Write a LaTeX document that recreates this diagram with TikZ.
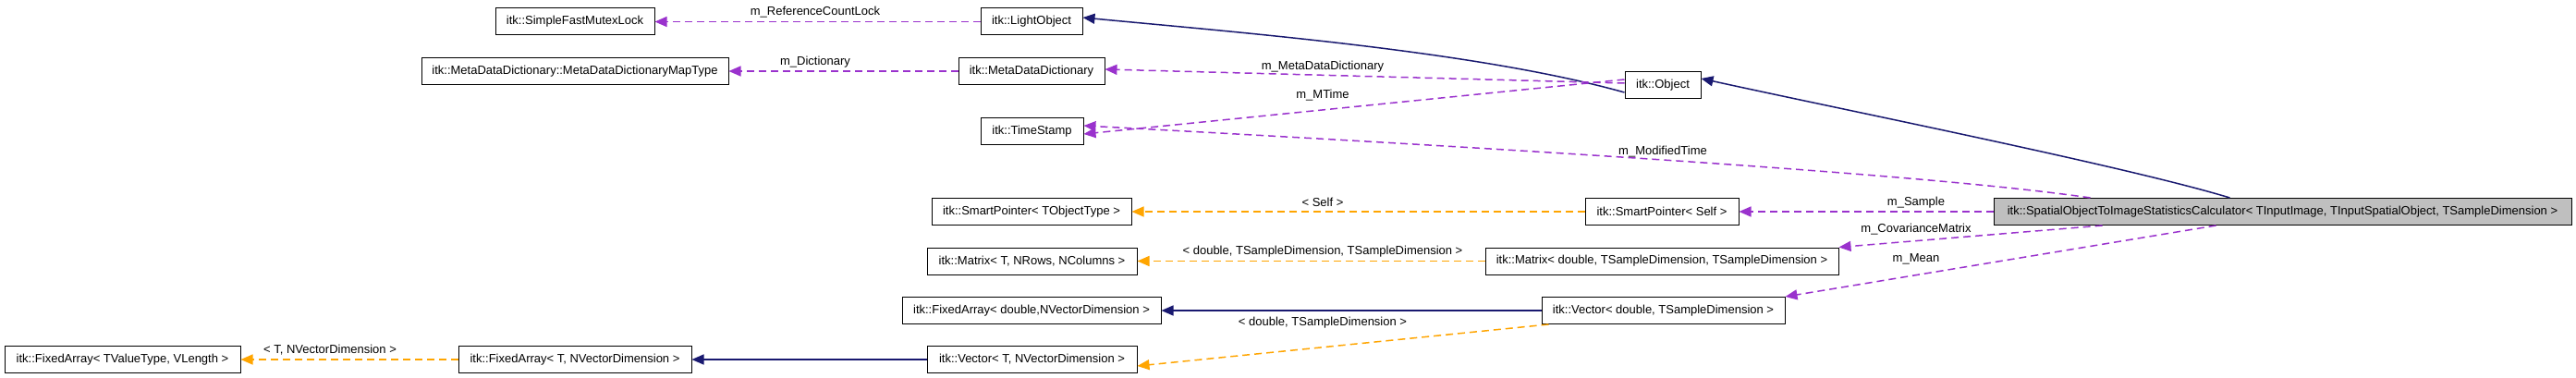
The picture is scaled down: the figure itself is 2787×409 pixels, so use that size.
\documentclass[tikz,border=0pt]{standalone}
\usepackage{fontspec}
\setmainfont{Liberation Sans}
\usetikzlibrary{arrows.meta}
\definecolor{purp}{RGB}{154,50,205}
\definecolor{navyc}{RGB}{25,25,112}
\definecolor{orng}{RGB}{255,165,0}
\definecolor{calcgray}{RGB}{191,191,191}
\begin{document}
\begin{tikzpicture}[x=1pt,y=-1pt,
  box/.style={draw=black, line width=1pt, fill=white, minimum height=29pt, inner sep=0pt, font=\fontsize{13}{15}\selectfont},
  lbl/.style={font=\fontsize{13}{15}\selectfont, inner sep=0pt},
  tip/.style={-{Triangle[length=13pt,width=11pt]}},
  member/.style={draw=purp, line width=1.5pt, dash pattern=on 8pt off 5pt, tip},
  tmpl/.style={draw=orng, line width=1.5pt, dash pattern=on 8pt off 5pt, tip},
  inh/.style={draw=navyc, line width=1.5pt, tip}
]
\fill[white] (0,0) rectangle (2787,409);
\useasboundingbox (0,0) rectangle (2787,409);

% nodes
\node[box, minimum width=172pt] (sfml) at (622,23.5) {itk::SimpleFastMutexLock};
\node[box, minimum width=110pt] (light) at (1116,23.5) {itk::LightObject};
\node[box, minimum width=332pt] (maptype) at (622,77) {itk::MetaDataDictionary::MetaDataDictionaryMapType};
\node[box, minimum width=158pt] (mdd) at (1116,77) {itk::MetaDataDictionary};
\node[box, minimum width=111pt] (ts) at (1116.5,142) {itk::TimeStamp};
\node[box, minimum width=82pt] (obj) at (1799,92) {itk::Object};
\node[box, minimum width=216pt] (spt) at (1116,229) {itk::SmartPointer< TObjectType >};
\node[box, minimum width=166pt] (sps) at (1798,229) {itk::SmartPointer< Self >};
\node[box, minimum width=227pt] (matt) at (1116.5,282.5) {itk::Matrix< T, NRows, NColumns >};
\node[box, minimum width=382pt] (matd) at (1798,282.5) {itk::Matrix< double, TSampleDimension, TSampleDimension >};
\node[box, minimum width=280pt] (fad) at (1116,336) {itk::FixedArray< double,NVectorDimension >};
\node[box, minimum width=263pt] (vecd) at (1799.5,336) {itk::Vector< double, TSampleDimension >};
\node[box, minimum width=255pt] (fav) at (132.5,389) {itk::FixedArray< TValueType, VLength >};
\node[box, minimum width=252pt] (fat) at (622,389) {itk::FixedArray< T, NVectorDimension >};
\node[box, minimum width=227pt] (vect) at (1116.5,389) {itk::Vector< T, NVectorDimension >};
\node[box, minimum width=625pt, fill=calcgray] (calc) at (2469.5,229) {itk::SpatialObjectToImageStatisticsCalculator< TInputImage, TInputSpatialObject, TSampleDimension >};

% edges
\draw[member] (light.west) -- (sfml.east);
\node[lbl] (l1) at (882,13) {m\_ReferenceCountLock};
\draw[member] (mdd.west) -- (maptype.east);
\node[lbl] (l2) at (882,67) {m\_Dictionary};
\draw[inh] ([yshift=-8pt]obj.west) .. controls (1600,56) and (1350,36) .. ([yshift=4.5pt]light.east);
\draw[member] ([yshift=2pt]obj.west) -- ([yshift=2pt]mdd.east);
\node[lbl] (l3) at (1431,72) {m\_MetaDataDictionary};
\draw[member] ([yshift=6pt]obj.west) -- ([yshift=-3pt]ts.east);
\node[lbl] (l4) at (1431,103) {m\_MTime};
\draw[member] ([xshift=-208pt]calc.north) .. controls (2150,198) and (1900,175) .. ([yshift=6pt]ts.east);
\node[lbl] (l5) at (1799,164) {m\_ModifiedTime};
\draw[inh] ([xshift=-57pt]calc.north) .. controls (2300,180) and (2000,120) .. ([yshift=7pt]obj.east);
\draw[member] (calc.west) -- (sps.east);
\node[lbl] (l6) at (2073,219) {m\_Sample};
\draw[member] ([xshift=-195pt]calc.south) -- (matd.north east);
\node[lbl] (l7) at (2073,248) {m\_CovarianceMatrix};
\draw[member] ([xshift=-72pt]calc.south) -- (vecd.north east);
\node[lbl] (l8) at (2073,280) {m\_Mean};
\draw[tmpl] (sps.west) -- (spt.east);
\node[lbl] (l9) at (1431,219) {< Self >};
\draw[tmpl] (matd.west) -- (matt.east);
\node[lbl] (l10) at (1431,272) {< double, TSampleDimension, TSampleDimension >};
\draw[inh] (vecd.west) -- (fad.east);
\draw[tmpl] ([xshift=8pt]vecd.south west) -- ([yshift=-7pt]vect.east);
\node[lbl] (l11) at (1431,349) {< double, TSampleDimension >};
\draw[inh] (vect.west) -- (fat.east);
\draw[tmpl] (fat.west) -- (fav.east);
\node[lbl] (l12) at (357,379) {< T, NVectorDimension >};
\end{tikzpicture}
\end{document}
